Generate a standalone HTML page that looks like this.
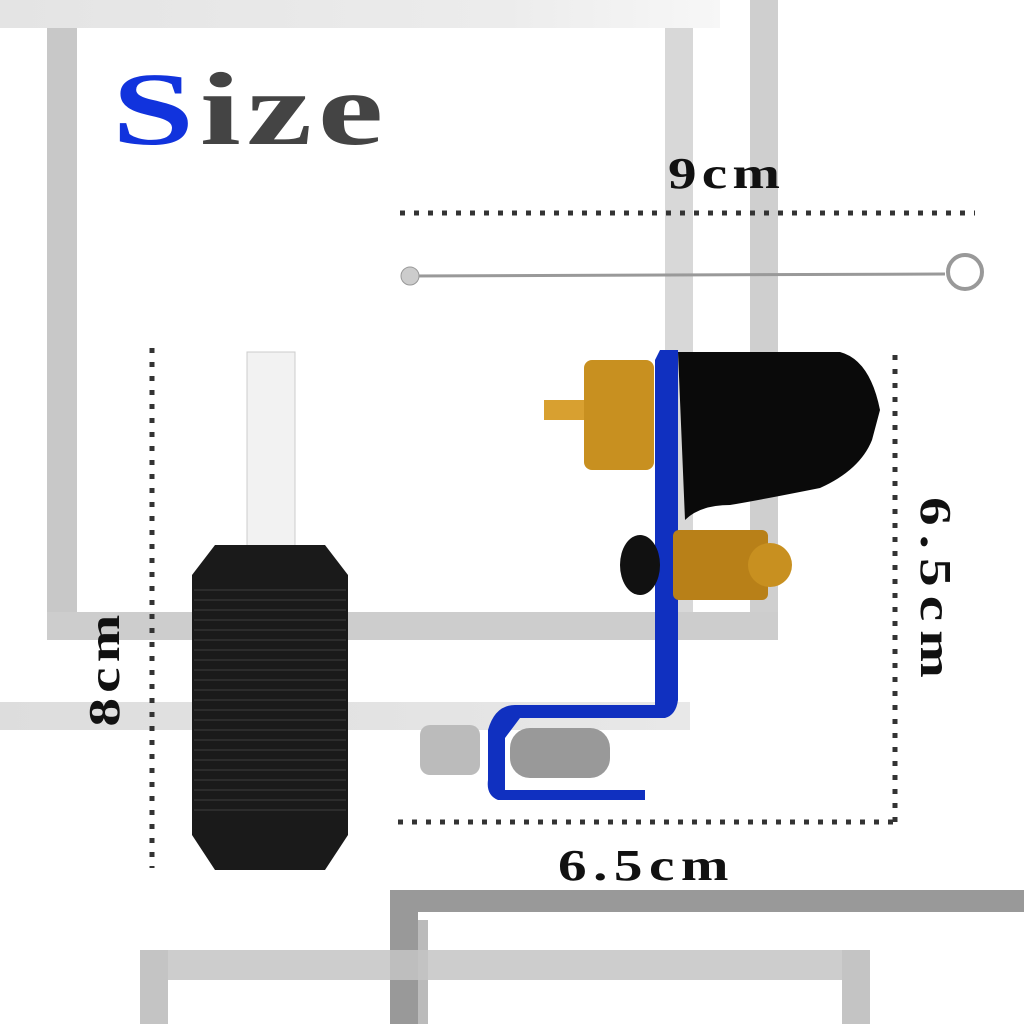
<!DOCTYPE html>
<html><head><style>
body{margin:0;width:1024px;height:1024px;background:#fff;position:relative;overflow:hidden;font-family:"Liberation Serif",serif}
.b{position:absolute}
.t{position:absolute;font-weight:bold;color:#111;white-space:nowrap;line-height:1}
</style></head><body>
<div class="b" style="left:0;top:0;width:720px;height:28px;background:linear-gradient(90deg,#e4e4e4,#ececec 70%,#f7f7f7)"></div>
<div class="b" style="left:47px;top:28px;width:30px;height:612px;background:#c8c8c8"></div>
<div class="b" style="left:665px;top:28px;width:28px;height:600px;background:#d8d8d8"></div>
<div class="b" style="left:750px;top:0;width:28px;height:640px;background:#cfcfcf"></div>
<div class="b" style="left:47px;top:612px;width:731px;height:28px;background:#cdcdcd"></div>
<div class="b" style="left:0;top:702px;width:690px;height:28px;background:linear-gradient(90deg,#ddd,#e8e8e8)"></div>
<div class="b" style="left:390px;top:890px;width:634px;height:22px;background:#999"></div>
<div class="b" style="left:390px;top:890px;width:28px;height:134px;background:#999"></div>
<div class="b" style="left:418px;top:920px;width:10px;height:104px;background:#bbb"></div>
<div class="b" style="left:140px;top:950px;width:730px;height:30px;background:#c4c4c4;opacity:.85"></div>
<div class="b" style="left:140px;top:950px;width:28px;height:74px;background:#c4c4c4"></div>
<div class="b" style="left:842px;top:950px;width:28px;height:74px;background:#c4c4c4"></div>

<div class="t" style="left:112px;top:58px;font-size:104px;letter-spacing:4px;transform:scaleX(1.42);transform-origin:0 0"><span style="color:#1133dd">S</span><span style="color:#444">ize</span></div>
<div class="t" style="left:668px;top:152px;font-size:44px;letter-spacing:4px;transform:scaleX(1.3);transform-origin:0 0">9cm</div>
<div class="t" style="left:558px;top:844px;font-size:44px;letter-spacing:5px;transform:scaleX(1.3);transform-origin:0 0">6.5cm</div>
<div class="t" style="left:935px;top:592px;font-size:44px;letter-spacing:7px;transform:translate(-50%,-50%) rotate(90deg) scaleX(1.3)">6.5cm</div>
<div class="t" style="left:105px;top:668px;font-size:44px;letter-spacing:4px;transform:translate(-50%,-50%) rotate(-90deg) scaleX(1.3)">8cm</div>

<svg class="b" style="left:0;top:0" width="1024" height="1024">
<g stroke="#333" stroke-width="5" stroke-dasharray="5 9" fill="none">
<line x1="400" y1="213" x2="975" y2="213"/>
<line x1="398" y1="822" x2="895" y2="822"/>
<line x1="895" y1="355" x2="895" y2="822"/>
<line x1="152" y1="348" x2="152" y2="868"/>
</g>
<line x1="410" y1="276" x2="945" y2="274" stroke="#999" stroke-width="3"/>
<circle cx="410" cy="276" r="9" fill="#ccc" stroke="#999"/>
<circle cx="965" cy="272" r="17" fill="none" stroke="#999" stroke-width="4"/>
<rect x="247" y="352" width="48" height="195" fill="#f2f2f2" stroke="#ccc"/>
<path d="M215 545 H325 L348 575 V835 L325 870 H215 L192 835 V575 Z" fill="#1a1a1a"/>
<g stroke="#333" stroke-width="1.5">
<path d="M194 590H346M194 600H346M194 610H346M194 620H346M194 630H346M194 640H346M194 650H346M194 660H346M194 670H346M194 680H346M194 690H346M194 700H346M194 710H346M194 720H346M194 730H346M194 740H346M194 750H346M194 760H346M194 770H346M194 780H346M194 790H346M194 800H346M194 810H346"/>
</g>
<path d="M678 352 H840 Q870 360 880 410 L872 440 Q860 470 820 488 Q760 500 730 505 Q700 505 685 520 Z" fill="#0a0a0a"/>
<rect x="584" y="360" width="70" height="110" rx="8" fill="#c89020"/>
<rect x="544" y="400" width="40" height="20" fill="#d8a030"/>
<path d="M660 350 H678 V700 Q676 715 665 718 H520 L505 738 V790 H645 V800 H498 Q486 795 488 780 V730 Q495 705 515 705 H655 V360 Z" fill="#1030c0"/>
<rect x="673" y="530" width="95" height="70" rx="6" fill="#b88018"/>
<circle cx="770" cy="565" r="22" fill="#c89020"/>
<ellipse cx="640" cy="565" rx="20" ry="30" fill="#111"/>
<rect x="510" y="728" width="100" height="50" rx="20" fill="#999"/>
<rect x="420" y="725" width="60" height="50" rx="10" fill="#bbb"/>
</svg>
</body></html>
